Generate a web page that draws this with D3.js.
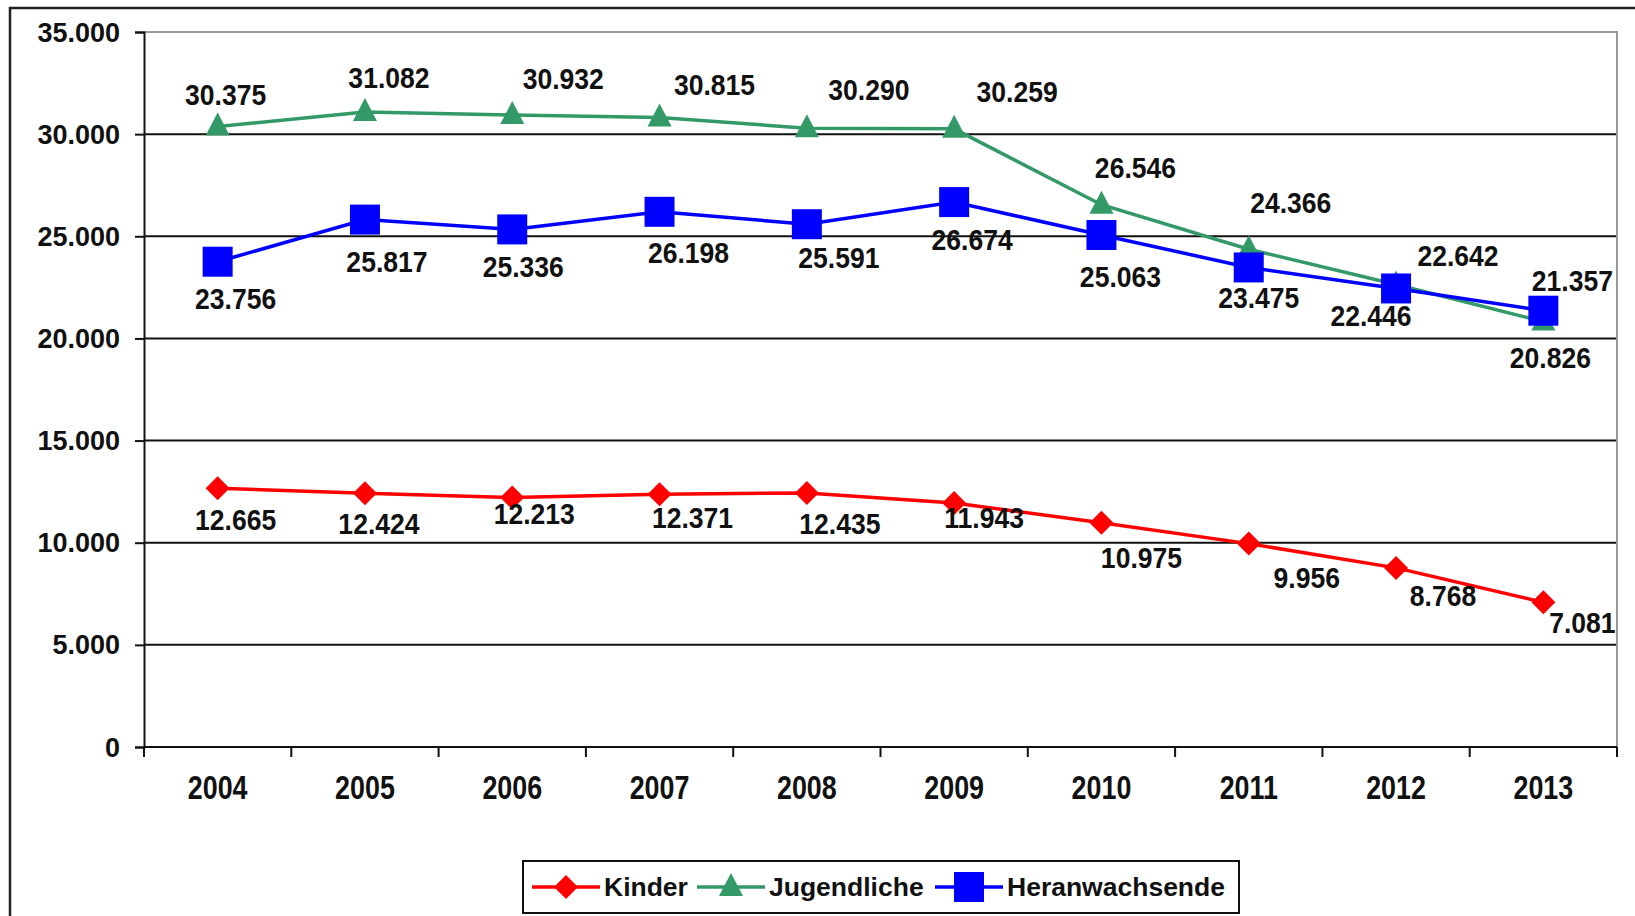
<!doctype html>
<meta charset="utf-8">
<title>Kinder, Jugendliche, Heranwachsende 2004-2013</title>
<style>
body { margin: 0; background: #fff; }
svg { font-family: "Liberation Sans", Arial, sans-serif; font-weight: bold; }
</style>
<script src="https://cdn.jsdelivr.net/npm/d3@7"></script>
<body>
<svg id="chart" width="1635" height="916"></svg>
<script>
// values
var years = ["2004","2005","2006","2007","2008","2009","2010","2011","2012","2013"];
var kinder = [12665, 12424, 12213, 12371, 12435, 11943, 10975, 9956, 8768, 7081];
var jugendliche = [30375, 31082, 30932, 30815, 30290, 30259, 26546, 24366, 22642, 20826];
var heranwachsende = [23756, 25817, 25336, 26198, 25591, 26674, 25063, 23475, 22446, 21357];
var seriesNames = ["Kinder", "Jugendliche", "Heranwachsende"];
var yTicks = [0, 5000, 10000, 15000, 20000, 25000, 30000, 35000];

// hand placed label offsets (dx to label centre, dy to baseline), like in the original
var kinderLabelShift = [[18,42],[14,41],[22,26],[33,34],[33,41],[30,25],[40,45],[58,44],[47,38],[39,31]];
var jugendLabelShift = [[8,-21],[24,-24],[51,-26],[55,-22],[62,-28],[63,-27],[34,-27],[42,-36],[62,-18],[7,46]];
var heranLabelShift = [[18,47],[22,52],[11,48],[29,51],[32,44],[18,48],[19,52],[10,41],[-25,38],[29,-20]];

var de = d3.formatLocale({decimal: ",", thousands: ".", grouping: [3], currency: ["", " €"]});
var fmt = de.format(",d");

var svg = d3.select("#chart");

// outer frame (right and bottom edges run off the picture)
svg.append("rect")
  .attr("x", 10).attr("y", 8).attr("width", 1700).attr("height", 1000)
  .attr("fill", "none").attr("stroke", "#222").attr("stroke-width", 2.5);

var x = d3.scaleBand().domain(years).range([144, 1617]);
var y = d3.scaleLinear().domain([0, 35000]).range([747, 32]);
var cx = function(i) { return x(years[i]) + x.bandwidth() / 2; };

// gridlines
svg.append("g").selectAll("line")
  .data(yTicks.filter(function(d) { return d > 0 && d < 35000; }))
  .join("line")
  .attr("x1", 144).attr("x2", 1617)
  .attr("y1", function(d) { return y(d); }).attr("y2", function(d) { return y(d); })
  .attr("stroke", "#111").attr("stroke-width", 2);

// plot border top / right (grey)
svg.append("path")
  .attr("d", "M144," + y(35000) + "H1617V" + y(0))
  .attr("fill", "none").attr("stroke", "#999").attr("stroke-width", 2);

// y axis
var yAxis = svg.append("g")
  .attr("transform", "translate(144,0)")
  .call(d3.axisLeft(y).tickValues(yTicks).tickSize(9).tickPadding(15).tickFormat(fmt));
yAxis.select(".domain").attr("stroke", "#111").attr("stroke-width", 2);
yAxis.selectAll(".tick line").attr("stroke", "#111").attr("stroke-width", 2);
yAxis.selectAll(".tick text")
  .attr("font-size", 27).attr("font-family", "Liberation Sans, Arial, sans-serif")
  .attr("font-weight", "bold").attr("fill", "#111")
  .attr("dy", 9).attr("x", -24);

// x axis: ticks between the categories, labels at the centres
var xAxis = svg.append("g").attr("transform", "translate(0," + y(0) + ")");
xAxis.append("line").attr("x1", 144).attr("x2", 1617).attr("stroke", "#111").attr("stroke-width", 2);
xAxis.selectAll("line.tk")
  .data(years.map(function(d) { return x(d); }).concat([x.range()[1]]))
  .join("line").attr("class", "tk")
  .attr("x1", function(d) { return d; }).attr("x2", function(d) { return d; })
  .attr("y1", 0).attr("y2", 10)
  .attr("stroke", "#111").attr("stroke-width", 2);
xAxis.selectAll("text")
  .data(years)
  .join("text")
  .attr("transform", function(d, i) { return "translate(" + cx(i) + ",52) scale(0.79,1)"; })
  .attr("text-anchor", "middle")
  .attr("font-size", 34).attr("fill", "#111")
  .text(function(d) { return d; });

// series
var series = [
  {name: "Kinder", values: kinder, color: "#ff0000", shape: "diamond", shift: kinderLabelShift},
  {name: "Jugendliche", values: jugendliche, color: "#339966", shape: "triangle", shift: jugendLabelShift},
  {name: "Heranwachsende", values: heranwachsende, color: "#0000ff", shape: "square", shift: heranLabelShift}
];

function markerPath(shape) {
  if (shape === "diamond") return "M0,-12L12,0L0,12L-12,0Z";
  if (shape === "triangle") return "M0,-14L12,9L-12,9Z";
  return "M-15,-15H15V15H-15Z";
}

var line = d3.line()
  .x(function(d, i) { return cx(i); })
  .y(function(d) { return y(d); });

series.forEach(function(s) {
  var g = svg.append("g");
  g.append("path")
    .attr("d", line(s.values))
    .attr("fill", "none").attr("stroke", s.color).attr("stroke-width", 3.5);
  g.selectAll("path.mk")
    .data(s.values)
    .join("path").attr("class", "mk")
    .attr("d", markerPath(s.shape))
    .attr("transform", function(d, i) { return "translate(" + cx(i) + "," + y(d) + ")"; })
    .attr("fill", s.color);
});

// data labels on top
series.forEach(function(s) {
  svg.append("g").selectAll("text")
    .data(s.values)
    .join("text")
    .attr("transform", function(d, i) {
      return "translate(" + (cx(i) + s.shift[i][0]) + "," + (y(d) + s.shift[i][1]) + ") scale(0.885,1)";
    })
    .attr("text-anchor", "middle")
    .attr("font-size", 30).attr("fill", "#111")
    .text(function(d) { return fmt(d); });
});

// legend
var lg = svg.append("g");
lg.append("rect")
  .attr("x", 523).attr("y", 861).attr("width", 716).attr("height", 52)
  .attr("fill", "#fff").attr("stroke", "#111").attr("stroke-width", 2);
var legendX = [532, 697, 935];
series.forEach(function(s, i) {
  var item = lg.append("g").attr("transform", "translate(" + legendX[i] + ",887)");
  item.append("line").attr("x1", 0).attr("x2", 68)
    .attr("stroke", s.color).attr("stroke-width", 3.5);
  item.append("path").attr("d", markerPath(s.shape))
    .attr("transform", "translate(34,0)").attr("fill", s.color);
  item.append("text")
    .attr("x", 72).attr("y", 9)
    .attr("font-size", 26.5).attr("fill", "#111")
    .text(seriesNames[i]);
});
</script>
</body>
